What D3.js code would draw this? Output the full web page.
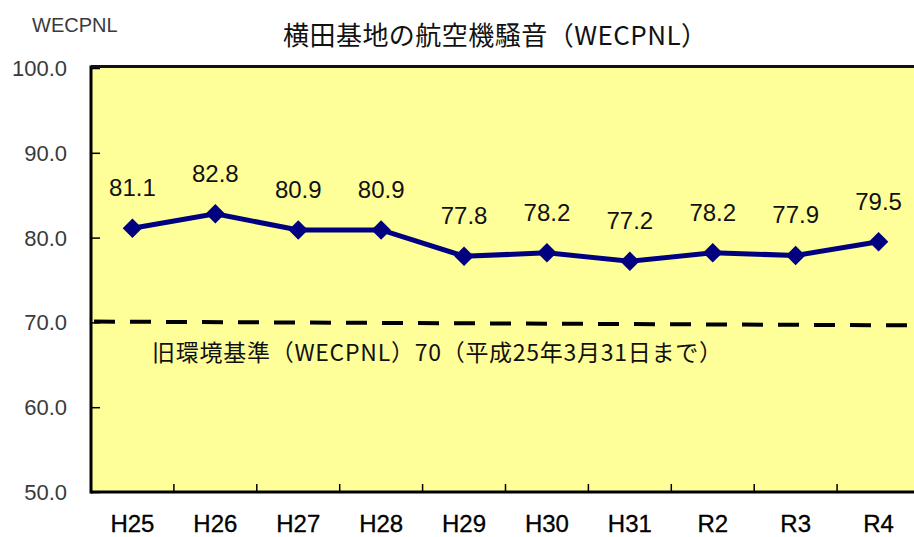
<!DOCTYPE html>
<html>
<head>
<meta charset="utf-8">
<script src="https://cdn.jsdelivr.net/npm/d3@7"></script>
<style>
  body { margin: 0; background: #fff; }
  svg { display: block; }
</style>
</head>
<body>
<div id="chart"></div>
<script>
// data
const years = ["H25", "H26", "H27", "H28", "H29", "H30", "H31", "R2", "R3", "R4"];
const noise = [81.1, 82.8, 80.9, 80.9, 77.8, 78.2, 77.2, 78.2, 77.9, 79.5];
const yTicks = [50, 60, 70, 80, 90, 100];
// old standard line (70), drawn slightly sloped in the original
const standardLine = [70.1, 69.65];

const TITLE = "横田基地の航空機騒音（WECPNL）";
const UNIT = "WECPNL";
const NOTE = "旧環境基準（WECPNL）70（平成25年3月31日まで）";

// frame
const FRAME_WIDTH = 914;
const FRAME_HEIGHT = 537;
const PLOT = {left: 91, right: 920, top: 68, bottom: 492};

const svg = d3.select("#chart")
    .append("svg")
        .attr("width", FRAME_WIDTH)
        .attr("height", FRAME_HEIGHT);

// scales
const xScale = d3.scaleBand()
    .domain(years)
    .range([PLOT.left, PLOT.right])
    .padding(0);

const yScale = d3.scaleLinear()
    .domain([50, 100])
    .range([PLOT.bottom, PLOT.top]);

const cx = (d, i) => xScale(years[i]) + xScale.bandwidth() / 2;

// plot background
svg.append("rect")
    .attr("x", PLOT.left)
    .attr("y", PLOT.top - 1)
    .attr("width", PLOT.right - PLOT.left)
    .attr("height", PLOT.bottom - PLOT.top + 1)
    .attr("fill", "#ffff99");

// y axis ticks (inward)
const yAxis = svg.append("g")
    .attr("transform", "translate(" + PLOT.left + ",0)")
    .call(d3.axisRight(yScale).tickValues(yTicks).tickSize(9).tickFormat(""));
yAxis.select(".domain").remove();
yAxis.selectAll("line").attr("stroke", "#000").attr("stroke-width", 1.5);

// y tick labels
svg.append("g")
    .selectAll("text")
    .data(yTicks)
    .enter()
    .append("text")
        .attr("x", 67)
        .attr("y", d => yScale(d))
        .attr("dy", "0.36em")
        .attr("text-anchor", "end")
        .attr("font-family", "Liberation Sans, Arial, sans-serif")
        .attr("font-size", 22)
        .attr("fill", "#3a3a3a")
        .text(d => d.toFixed(1));

// x ticks between categories (inward)
svg.append("g")
    .selectAll("line")
    .data(years.slice(1))
    .enter()
    .append("line")
        .attr("x1", d => xScale(d))
        .attr("x2", d => xScale(d))
        .attr("y1", PLOT.bottom)
        .attr("y2", PLOT.bottom - 8)
        .attr("stroke", "#000")
        .attr("stroke-width", 1.5);

// x labels
svg.append("g")
    .selectAll("text")
    .data(years)
    .enter()
    .append("text")
        .attr("x", d => xScale(d) + xScale.bandwidth() / 2)
        .attr("y", 532)
        .attr("text-anchor", "middle")
        .attr("font-family", "Liberation Sans, Arial, sans-serif")
        .attr("font-size", 24)
        .attr("fill", "#000")
        .attr("stroke", "#000")
        .attr("stroke-width", 0.3)
        .text(d => d);

// frame lines
svg.append("line")
    .attr("x1", PLOT.left).attr("x2", PLOT.left)
    .attr("y1", PLOT.top - 2.5).attr("y2", PLOT.bottom + 1.5)
    .attr("stroke", "#000").attr("stroke-width", 3);
svg.append("line")
    .attr("x1", PLOT.left).attr("x2", PLOT.right)
    .attr("y1", PLOT.top - 1.5).attr("y2", PLOT.top - 1.5)
    .attr("stroke", "#111").attr("stroke-width", 3);
svg.append("line")
    .attr("x1", PLOT.left).attr("x2", PLOT.right)
    .attr("y1", PLOT.bottom).attr("y2", PLOT.bottom)
    .attr("stroke", "#000").attr("stroke-width", 3);

// dashed standard line
svg.append("line")
    .attr("x1", PLOT.left + 3)
    .attr("x2", PLOT.right)
    .attr("y1", yScale(standardLine[0]))
    .attr("y2", yScale(standardLine[1]))
    .attr("stroke", "#000")
    .attr("stroke-width", 4)
    .attr("stroke-dasharray", "21,15");

// note under the dashed line
svg.append("text")
    .attr("x", 152)
    .attr("y", 361)
    .attr("font-family", "Noto Sans CJK JP, sans-serif")
    .attr("font-size", 23)
    .attr("textLength", 570)
    .attr("lengthAdjust", "spacing")
    .attr("fill", "#111")
    .text(NOTE);

// data line
const line = d3.line()
    .x(cx)
    .y(d => yScale(d));

svg.append("path")
    .datum(noise)
    .attr("d", line)
    .attr("fill", "none")
    .attr("stroke", "#000080")
    .attr("stroke-width", 5);

// diamond markers
svg.append("g")
    .selectAll("path")
    .data(noise)
    .enter()
    .append("path")
        .attr("d", d3.symbol().type(d3.symbolSquare).size(190))
        .attr("transform", (d, i) => "translate(" + cx(d, i) + "," + yScale(d) + ") rotate(45)")
        .attr("fill", "#000080");

// value labels
svg.append("g")
    .selectAll("text")
    .data(noise)
    .enter()
    .append("text")
        .attr("x", cx)
        .attr("y", d => yScale(d) - 32)
        .attr("text-anchor", "middle")
        .attr("font-family", "Liberation Sans, Arial, sans-serif")
        .attr("font-size", 24)
        .attr("fill", "#111")
        .text(d => d.toFixed(1));

// title and unit
svg.append("text")
    .attr("x", 495)
    .attr("y", 45)
    .attr("text-anchor", "middle")
    .attr("font-family", "Noto Sans CJK JP, sans-serif")
    .attr("font-size", 26)
    .attr("textLength", 424)
    .attr("lengthAdjust", "spacing")
    .attr("fill", "#111")
    .text(TITLE);

svg.append("text")
    .attr("x", 32)
    .attr("y", 32)
    .attr("font-family", "Liberation Sans, Arial, sans-serif")
    .attr("font-size", 20)
    .attr("fill", "#3a3a3a")
    .text(UNIT);
</script>
</body>
</html>
